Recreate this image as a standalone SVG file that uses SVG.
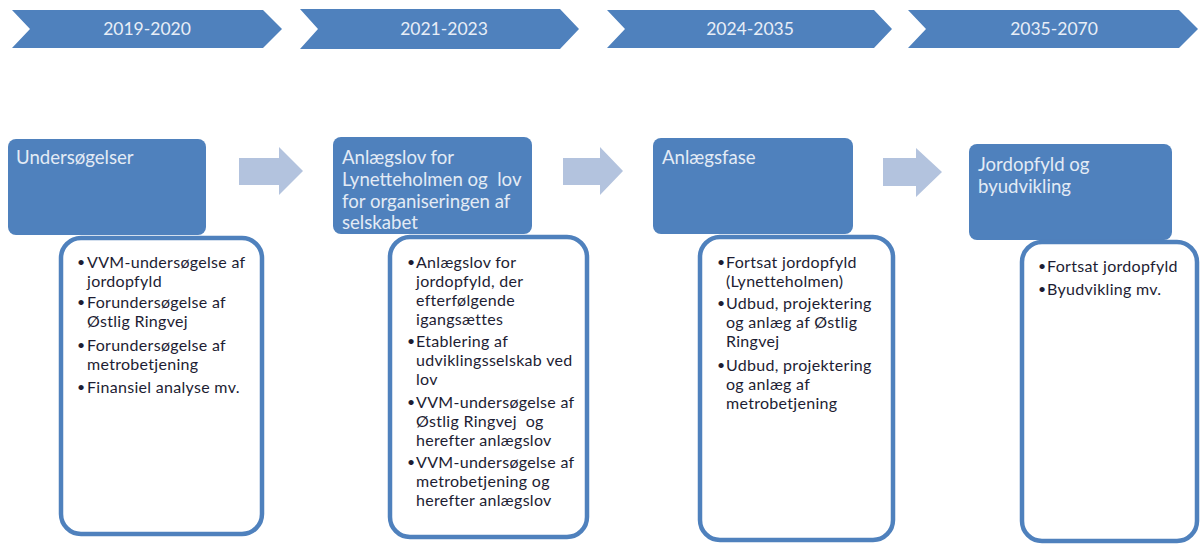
<svg xmlns="http://www.w3.org/2000/svg" width="1200" height="544" viewBox="0 0 1200 544">
<style>
.chev{fill:#4f81bd;}
.year{font-family:Lato,"Liberation Sans",sans-serif;font-size:17.5px;fill:#e8eef7;text-anchor:middle;}
.blue{fill:#4f81bd;}
.title{font-family:Lato,"Liberation Sans",sans-serif;font-size:18.6px;fill:#e3ebf5;}
.card{fill:#ffffff;stroke:#4f81bd;stroke-width:4.5;}
.arrow{fill:#b3c3de;}
.item{font-family:Lato,"Liberation Sans",sans-serif;font-size:16px;letter-spacing:0.3px;fill:#1d1d33;}
.dot{font-family:Lato,"Liberation Sans",sans-serif;font-size:14px;fill:#1d1d33;}
</style>
<rect width="1200" height="544" fill="#ffffff"/>
<g id="phase-2019-2020">
<path class="chev" d="M12,10 L263,10 L282,29 L263,48 L12,48 L30,29 Z"/>
<text class="year" x="147" y="35">2019-2020</text>
</g>
<g id="phase-2021-2023">
<path class="chev" d="M300,9 L560,9 L579,29 L560,49 L300,49 L318,29 Z"/>
<text class="year" x="444" y="35">2021-2023</text>
</g>
<g id="phase-2024-2035">
<path class="chev" d="M607,10 L874,10 L892,29 L874,48 L607,48 L625,29 Z"/>
<text class="year" x="750" y="35">2024-2035</text>
</g>
<g id="phase-2035-2070">
<path class="chev" d="M908,10 L1179,10 L1198,29 L1179,48 L908,48 L926,29 Z"/>
<text class="year" x="1054" y="35">2035-2070</text>
</g>
<g id="connectors">
<path class="arrow" d="M239,158 L279,158 L279,147 L303,171 L279,195 L279,185 L239,185 Z"/>
<path class="arrow" d="M563,158 L600,158 L600,147 L623,171 L600,195 L600,185 L563,185 Z"/>
<path class="arrow" d="M883,158 L916,158 L916,148 L942,172 L916,197 L916,186 L883,186 Z"/>
</g>
<g id="stage-undersogelser">
<rect class="blue" x="8" y="139" width="198" height="96" rx="8"/>
<text class="title" x="16" y="164">Undersøgelser</text>
</g>
<g id="details-undersogelser">
<rect class="card" x="61" y="238" width="201" height="296" rx="20"/>
<g>
<text class="dot" x="77" y="267">•</text><text class="item" x="87" y="268">VVM-undersøgelse af</text>
<text class="item" x="87" y="287">jordopfyld</text>
<text class="dot" x="77" y="307">•</text><text class="item" x="87" y="308">Forundersøgelse af</text>
<text class="item" x="87" y="327">Østlig Ringvej</text>
<text class="dot" x="77" y="350">•</text><text class="item" x="87" y="351">Forundersøgelse af</text>
<text class="item" x="87" y="370">metrobetjening</text>
<text class="dot" x="77" y="392">•</text><text class="item" x="87" y="393">Finansiel analyse mv.</text>
</g>
</g>
<g id="stage-anlaegslov">
<rect class="blue" x="333" y="137" width="199" height="97" rx="8"/>
<text class="title" x="342" y="164">Anlægslov for</text>
<text class="title" x="342" y="186">Lynetteholmen og&#160; lov</text>
<text class="title" x="342" y="208">for organiseringen af</text>
<text class="title" x="342" y="229">selskabet</text>
</g>
<g id="details-anlaegslov">
<rect class="card" x="390" y="237" width="197" height="300" rx="20"/>
<g>
<text class="dot" x="407" y="267">•</text><text class="item" x="416" y="268">Anlægslov for</text>
<text class="item" x="416" y="287">jordopfyld, der</text>
<text class="item" x="416" y="306">efterfølgende</text>
<text class="item" x="416" y="325">igangsættes</text>
<text class="dot" x="407" y="346">•</text><text class="item" x="416" y="347">Etablering af</text>
<text class="item" x="416" y="366">udviklingsselskab ved</text>
<text class="item" x="416" y="385">lov</text>
<text class="dot" x="407" y="407">•</text><text class="item" x="416" y="408">VVM-undersøgelse af</text>
<text class="item" x="416" y="427">Østlig Ringvej&#160; og</text>
<text class="item" x="416" y="446">herefter anlægslov</text>
<text class="dot" x="407" y="467">•</text><text class="item" x="416" y="468">VVM-undersøgelse af</text>
<text class="item" x="416" y="487">metrobetjening og</text>
<text class="item" x="416" y="506">herefter anlægslov</text>
</g>
</g>
<g id="stage-anlaegsfase">
<rect class="blue" x="653" y="138" width="200" height="96" rx="8"/>
<text class="title" x="662" y="164">Anlægsfase</text>
</g>
<g id="details-anlaegsfase">
<rect class="card" x="700" y="237" width="193" height="303" rx="20"/>
<g>
<text class="dot" x="717" y="267">•</text><text class="item" x="726" y="268">Fortsat jordopfyld</text>
<text class="item" x="726" y="287">(Lynetteholmen)</text>
<text class="dot" x="717" y="308">•</text><text class="item" x="726" y="309">Udbud, projektering</text>
<text class="item" x="726" y="328">og anlæg af Østlig</text>
<text class="item" x="726" y="347">Ringvej</text>
<text class="dot" x="717" y="370">•</text><text class="item" x="726" y="371">Udbud, projektering</text>
<text class="item" x="726" y="390">og anlæg af</text>
<text class="item" x="726" y="409">metrobetjening</text>
</g>
</g>
<g id="stage-byudvikling">
<rect class="blue" x="969" y="144" width="203" height="96" rx="8"/>
<text class="title" x="978" y="171">Jordopfyld og</text>
<text class="title" x="978" y="193">byudvikling</text>
</g>
<g id="details-byudvikling">
<rect class="card" x="1022" y="242" width="175" height="299" rx="20"/>
<g>
<text class="dot" x="1038" y="271">•</text><text class="item" x="1047" y="272">Fortsat jordopfyld</text>
<text class="dot" x="1038" y="294">•</text><text class="item" x="1047" y="295">Byudvikling mv.</text>
</g>
</g>
</svg>
